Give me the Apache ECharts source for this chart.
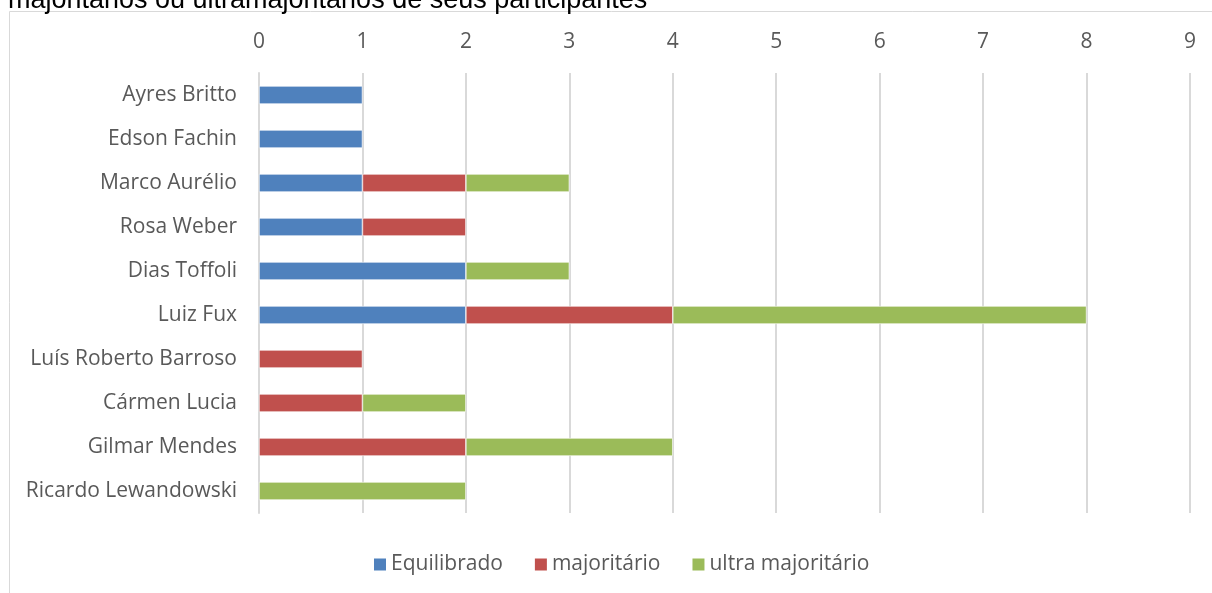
<!DOCTYPE html>
<html>
<head>
    <meta charset="utf-8">
    <title>Ministros</title>
    <script src="https://cdn.jsdelivr.net/npm/echarts@6/dist/echarts.min.js"></script>
    <style>
        html, body { margin: 0; padding: 0; background: #fff; }
        #chart { width: 1212px; height: 593px; }
    </style>
</head>
<body>
    <div id="chart"></div>
    <script>
        // dados
        var ministros = ['Ayres Britto', 'Edson Fachin', 'Marco Aurélio', 'Rosa Weber', 'Dias Toffoli',
            'Luiz Fux', 'Luís Roberto Barroso', 'Cármen Lucia', 'Gilmar Mendes', 'Ricardo Lewandowski'];
        var equilibrado = [1, 1, 1, 1, 2, 2, 0, 0, 0, 0];
        var majoritario = [0, 0, 1, 1, 0, 2, 1, 1, 2, 0];
        var ultraMajoritario = [0, 0, 1, 0, 1, 4, 0, 1, 2, 2];
        var nomesSeries = ['Equilibrado', 'majoritário', 'ultra majoritário'];
        var cores = ['#4f81bd', '#c0504d', '#9bbb59'];

        var fonte = '"Open Sans", "Noto Sans", sans-serif';
        var myChart = echarts.init(document.getElementById('chart'));

        function serie(nome, dados, cor) {
            return {
                name: nome,
                type: 'bar',
                stack: 'total',
                barWidth: 18,
                data: dados.map(function (v) { return v === 0 ? '-' : v; }),
                itemStyle: { color: cor, borderColor: '#ffffff', borderWidth: 0.6 },
                emphasis: { disabled: true }
            };
        }

        var option = {
            animation: false,
            color: cores,
            graphic: [
                {
                    type: 'rect',
                    shape: { x: 9.5, y: 11.5, width: 1220, height: 600 },
                    style: { fill: 'none', stroke: '#d9d9d9', lineWidth: 1 }
                },
                {
                    type: 'text',
                    left: 8,
                    top: -13,
                    style: {
                        text: 'majoritários ou ultramajoritários de seus participantes',
                        font: '27px "Liberation Sans", Arial, sans-serif',
                        fill: '#000000'
                    }
                }
            ],
            grid: { left: 259, top: 73, width: 931, height: 440, containLabel: false },
            legend: {
                data: nomesSeries,
                bottom: 13,
                left: 367,
                itemWidth: 14,
                itemHeight: 14,
                itemGap: 30,
                icon: 'rect',
                textStyle: { color: '#595959', fontSize: 21, fontFamily: fonte, padding: [0, 0, 0, -1] }
            },
            xAxis: {
                type: 'value',
                position: 'top',
                min: 0,
                max: 9,
                interval: 1,
                axisLine: { show: false },
                axisTick: { show: false },
                splitLine: { lineStyle: { color: '#d9d9d9', width: 2 } },
                axisLabel: { color: '#595959', fontSize: 21, fontFamily: fonte, margin: 20 }
            },
            yAxis: {
                type: 'category',
                data: ministros,
                inverse: true,
                axisLine: { lineStyle: { color: '#d9d9d9', width: 2 } },
                axisTick: { show: false },
                axisLabel: { color: '#595959', fontSize: 21, fontFamily: fonte, margin: 22 }
            },
            series: [
                serie(nomesSeries[0], equilibrado, cores[0]),
                serie(nomesSeries[1], majoritario, cores[1]),
                serie(nomesSeries[2], ultraMajoritario, cores[2])
            ]
        };

        myChart.setOption(option);
    </script>
</body>
</html>
